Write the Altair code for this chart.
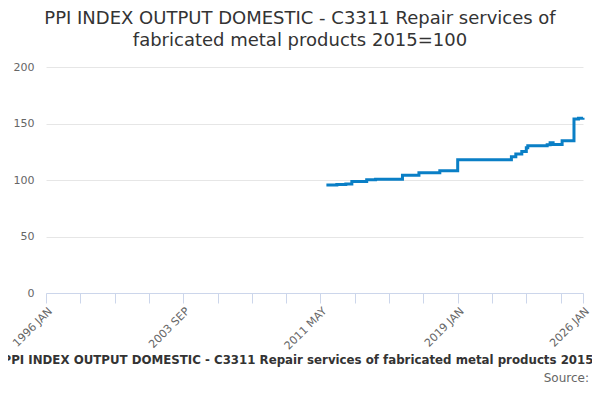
import altair as alt
import pandas as pd
from datetime import datetime, timezone

# Step change points (month start) and index values
dates = ["2011-09-01", "2012-04-01", "2012-10-01", "2013-02-01", "2013-12-01",
         "2014-06-01", "2015-12-01", "2016-11-01", "2018-01-01", "2019-01-01",
         "2022-01-01", "2022-04-01", "2022-08-01", "2022-11-01", "2022-12-01",
         "2024-01-01", "2024-03-01", "2024-05-01", "2024-11-01", "2025-07-01",
         "2025-10-01", "2026-01-01"]
values = [95.6, 96.0, 96.4, 98.6, 100.2,
          100.6, 104.3, 106.5, 108.2, 118.0,
          120.6, 123.0, 125.2, 128.6, 130.2,
          131.2, 133.0, 131.4, 134.8, 154.0,
          154.6, 155.0]

tick_months = ["1996-01", "1997-12", "1999-11", "2001-10", "2003-09", "2005-08",
               "2007-07", "2009-06", "2011-05", "2013-04", "2015-03", "2017-02",
               "2019-01", "2020-12", "2022-11", "2024-10", "2026-01"]
shown_labels = ["1996 JAN", "2003 SEP", "2011 MAY", "2019 JAN", "2026 JAN"]

title_lines = ["PPI INDEX OUTPUT DOMESTIC - C3311 Repair services of",
               "fabricated metal products 2015=100"]
caption = "PPI INDEX OUTPUT DOMESTIC - C3311 Repair services of fabricated metal products 2015=100"
source = "Source:"


def ms(s):
    y, m = s[:4], s[5:7]
    return int(datetime(int(y), int(m), 1, tzinfo=timezone.utc).timestamp() * 1000)


tick_vals = [ms(t) for t in tick_months]
df = pd.DataFrame({"date": dates, "value": values})

label_list = "[" + ",".join("'" + s + "'" for s in shown_labels) + "]"
label_expr = (f"indexof({label_list}, upper(utcFormat(datum.value, '%Y %b'))) >= 0 "
              f"? upper(utcFormat(datum.value, '%Y %b')) : ''")

line = alt.Chart(df).mark_line(
    interpolate="step-after", color="#0a7fc6", strokeWidth=3
).encode(
    x=alt.X("date:T", title=None,
            scale=alt.Scale(type="utc", domain=[tick_vals[0], tick_vals[-1]], nice=False),
            axis=alt.Axis(values=tick_vals, labelExpr=label_expr, labelAngle=-45,
                          labelFontSize=11, labelColor="#666666", labelFont="DejaVu Sans",
                          tickColor="#ccd6eb", tickSize=10, domainColor="#ccd6eb",
                          grid=False, labelPadding=2, labelOverlap=False,
                          labelFlush=False, labelBound=False)),
    y=alt.Y("value:Q", title=None,
            scale=alt.Scale(domain=[0, 200], nice=False),
            axis=alt.Axis(values=[0, 50, 100, 150, 200], labelFontSize=11,
                          labelColor="#666666", labelFont="DejaVu Sans",
                          gridColor="#e6e6e6", domain=False, ticks=False,
                          labelPadding=12)),
)

title1 = alt.Chart(pd.DataFrame({"t": [title_lines[0]]})).mark_text(
    fontSize=18, font="DejaVu Sans", color="#333333", align="center", baseline="middle"
).encode(text="t:N", x=alt.value(254), y=alt.value(-48))
title2 = alt.Chart(pd.DataFrame({"t": [title_lines[1]]})).mark_text(
    fontSize=18, font="DejaVu Sans", color="#333333", align="center", baseline="middle"
).encode(text="t:N", x=alt.value(254), y=alt.value(-26))
cap = alt.Chart(pd.DataFrame({"t": [caption]})).mark_text(
    fontSize=11.8, font="DejaVu Sans", fontWeight="bold", color="#333333",
    align="right", baseline="middle"
).encode(text="t:N", x=alt.value(582), y=alt.value(293))
src = alt.Chart(pd.DataFrame({"t": [source]})).mark_text(
    fontSize=12, font="DejaVu Sans", color="#666666", align="right", baseline="middle"
).encode(text="t:N", x=alt.value(543), y=alt.value(311))

chart = alt.layer(line, title1, title2, cap, src).properties(
    width=537, height=226,
    autosize=alt.AutoSizeParams(type="none"),
    padding={"left": 38, "top": 59, "right": 9, "bottom": 99},
).configure_view(stroke=None)

chart.save("out.html", embed_options={"renderer": "svg", "actions": False})
